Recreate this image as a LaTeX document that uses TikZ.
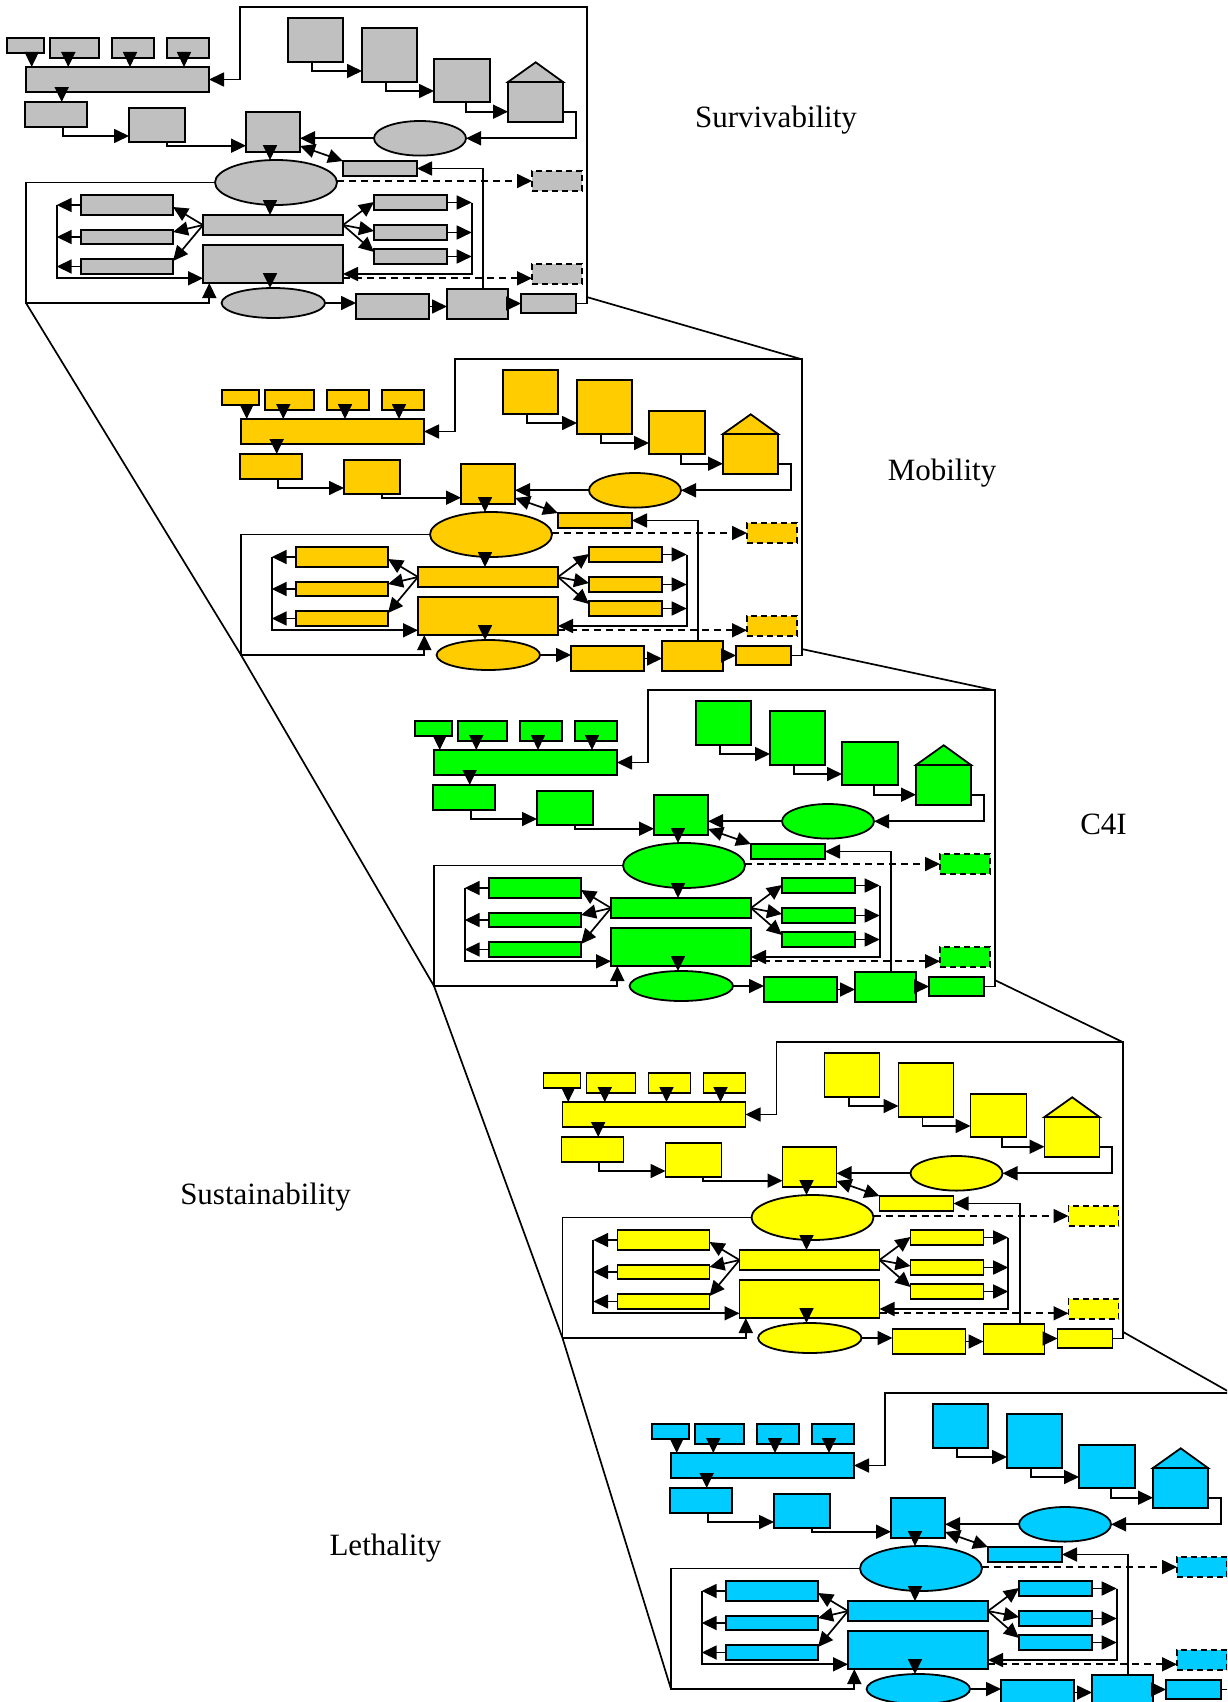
\documentclass[tikz,border=0pt]{standalone}
\usepackage{fontspec}
\setmainfont{Liberation Serif}
\usetikzlibrary{arrows.meta,shapes.geometric}
\colorlet{modcol}{gray}
\definecolor{cgray}{HTML}{C0C0C0}
\definecolor{corange}{HTML}{FFCC00}
\definecolor{cgreen}{HTML}{00FF00}
\definecolor{cyellow}{HTML}{FFFF00}
\definecolor{ccyan}{HTML}{00CCFF}
\tikzset{
 box/.style={draw=black, line width=1.8pt, fill=modcol, inner sep=0pt, outer sep=0pt},
 dbox/.style={dash pattern=on 6pt off 4pt},
 arr/.style={line width=1.7pt, -{Triangle[length=15pt,width=14pt]}},
 darr/.style={line width=1.7pt, {Triangle[length=15pt,width=14pt]}-{Triangle[length=15pt,width=14pt]}},
 dsharr/.style={arr, dash pattern=on 7pt off 5pt},
 ln/.style={line width=1.7pt},
 lbl/.style={font=\fontsize{31}{36}\selectfont, anchor=base, inner sep=0pt},
}
\newcommand\bx[6][]{\node[box,#1, minimum width={(#5-#3)*1pt}, minimum height={(#6-#4)*1pt}] (#2) at ({(#3+#5)/2},{(#4+#6)/2}) {};}
\newcommand\el[5]{\node[box, ellipse, minimum width={2*#4*1pt}, minimum height={2*#5*1pt}] (#1) at (#2,#3) {};}
\newcommand\drawmodule[4]{%
\begin{scope}[shift={(#3,#4)}, name prefix=#1-]
\colorlet{modcol}{#2}
\bx{s1}{7}{38}{44}{53}
\bx{s2}{50}{38}{99}{58}
\bx{s3}{112}{38}{154}{58}
\bx{s4}{167}{38}{209}{58}
\bx{bar}{26}{67}{209}{92}
\bx{b5}{25}{102}{87}{127}
\bx{b6}{129}{108}{185}{142}
\bx{b7}{246}{112}{300}{152}
\bx{ba}{288}{18}{343}{62}
\bx{bbx}{362}{28}{417}{82}
\bx{bc}{434}{59}{490}{102}
\bx{house}{508}{82}{563}{122}
\filldraw[box] (house.north west) -- (535.7,62.3) -- (house.north east) -- cycle;
\el{e1}{420}{138.3}{46}{17.3}
\bx{sb}{343}{161}{417}{176}
\el{e2}{276}{182.5}{61}{22.5}
\bx[dbox]{d1}{532}{171}{582}{191}
\bx{mb}{203}{215}{343}{235}
\bx{bb}{203}{245}{343}{283}
\el{e3}{273.3}{303}{51.7}{15}
\bx{L1}{81}{195}{173}{215}
\bx{L2}{81}{230}{173}{244}
\bx{L3}{81}{259}{173}{274}
\bx{R1}{374}{195}{447}{210}
\bx{R2}{374}{225}{447}{240}
\bx{R3}{374}{249}{447}{264}
\bx[dbox]{d2}{532}{264}{582}{284}
\bx{c1}{356}{294}{429}{319}
\bx{c2}{447}{289}{508}{319}
\bx{c3}{521}{294}{576}{313}
\coordinate (bl) at (26,303);
\coordinate (tr) at (586.7,7.3);
\coordinate (zr) at (586.7,297);
\draw[arr] (s1.south -| 31.7,0) -- (bar.north -| 31.7,0);
\draw[arr] (s2.south -| 68.3,0) -- (bar.north -| 68.3,0);
\draw[arr] (s3.south -| 130,0) -- (bar.north -| 130,0);
\draw[arr] (s4.south -| 184,0) -- (bar.north -| 184,0);
\draw[arr] (bar.south -| 61.7,0) -- (b5.north -| 61.7,0);
\draw[arr] (b5.south -| 62.7,0) |- (b6.west |- 0,136);
\draw[arr] (b6.south -| 166.7,0) |- (b7.west |- 0,145.7);
\draw[arr] (ba.south -| 312.3,0) |- (bbx.west |- 0,71);
\draw[arr] (bbx.south -| 386,0) |- (bc.west |- 0,91);
\draw[arr] (bc.south -| 465.7,0) |- (house.west |- 0,111.7);
\draw[arr] (house.east |- 0,111.7) -- (575.7,111.7) |- (e1.east);
\draw[arr] (e1.west) -- (b7.east |- e1.west);
\draw[darr] (b7.east |- 0,146) -- (sb.north west);
\draw[arr] (b7.south -| 270,0) -- (e2.north -| 270,0);
\draw[dsharr] (e2.east |- d1.west) -- (d1.west);
\draw[arr] (e2.west) -| (bl) -| (bb.south -| 209.3,0);
\draw[arr] (e2.south -| 270,0) -- (mb.north -| 270,0);
\draw[arr] (bb.south -| 270,0) -- (e3.north -| 270,0);
\draw[arr] (mb.west) -- (L1.east |- 0,207);
\draw[arr] (mb.west) -- (L2.east |- 0,232);
\draw[arr] (mb.west) -- (L3.east |- 0,261);
\draw[arr] (mb.east) -- (R1.west |- 0,202);
\draw[arr] (mb.east) -- (R2.west |- 0,231);
\draw[arr] (mb.east) -- (R3.west |- 0,252);
\draw[arr] (L1.west) -- (L1.west -| 56.7,0);
\draw[arr] (L2.west) -- (L2.west -| 56.7,0);
\draw[arr] (L3.west) -- (L3.west -| 56.7,0);
\draw[arr] (L1.west -| 56.7,0) |- (bb.west |- 0,278.3);
\draw[arr] (R1.east) -- (R1.east -| 471.7,0);
\draw[arr] (R2.east) -- (R2.east -| 471.7,0);
\draw[arr] (R3.east) -- (R3.east -| 471.7,0);
\draw[arr] (R1.east -| 471.7,0) |- (bb.east |- 0,274);
\draw[dsharr] (bb.east |- 0,278.3) -- (d2.west |- 0,278.3);
\draw[arr] (e3.east) -- (c1.west |- e3.east);
\draw[arr] (c1.east) -- (c2.west |- c1.east);
\draw[arr] (c2.east |- c3.west) -- (c3.west);
\draw[arr] (c2.north -| 483.3,0) |- (sb.east);
\draw[arr] (c3.east) -| (tr) -| (bar.east -| 240,0) -- (bar.east);
\end{scope}}
\begin{document}
\begin{tikzpicture}[x=1pt,y=-1pt]
\useasboundingbox (0,0) rectangle (1227,1702);
\clip (0,0) rectangle (1227,1702);
\drawmodule{g}{cgray}{0}{0}
\drawmodule{o}{corange}{215}{352}
\drawmodule{n}{cgreen}{408}{683}
\drawmodule{y}{cyellow}{536.5}{1035}
\drawmodule{c}{ccyan}{645}{1386}
\draw[ln] (g-bl) -- (o-bl) -- (n-bl) -- (y-bl) -- (c-bl);
\draw[ln] (g-zr) -- (o-tr);
\draw[ln] (o-zr) -- (n-tr);
\draw[ln] (n-zr) -- (y-tr);
\draw[ln] (y-zr) -- (c-tr);
\node[lbl] (t1) at (776,127.3) {Survivability};
\node[lbl] (t2) at (942,480) {Mobility};
\node[lbl] (t3) at (1103.5,834) {C4I};
\node[lbl] (t4) at (265.5,1204) {Sustainability};
\node[lbl] (t5) at (385.5,1555) {Lethality};
\end{tikzpicture}
\end{document}
